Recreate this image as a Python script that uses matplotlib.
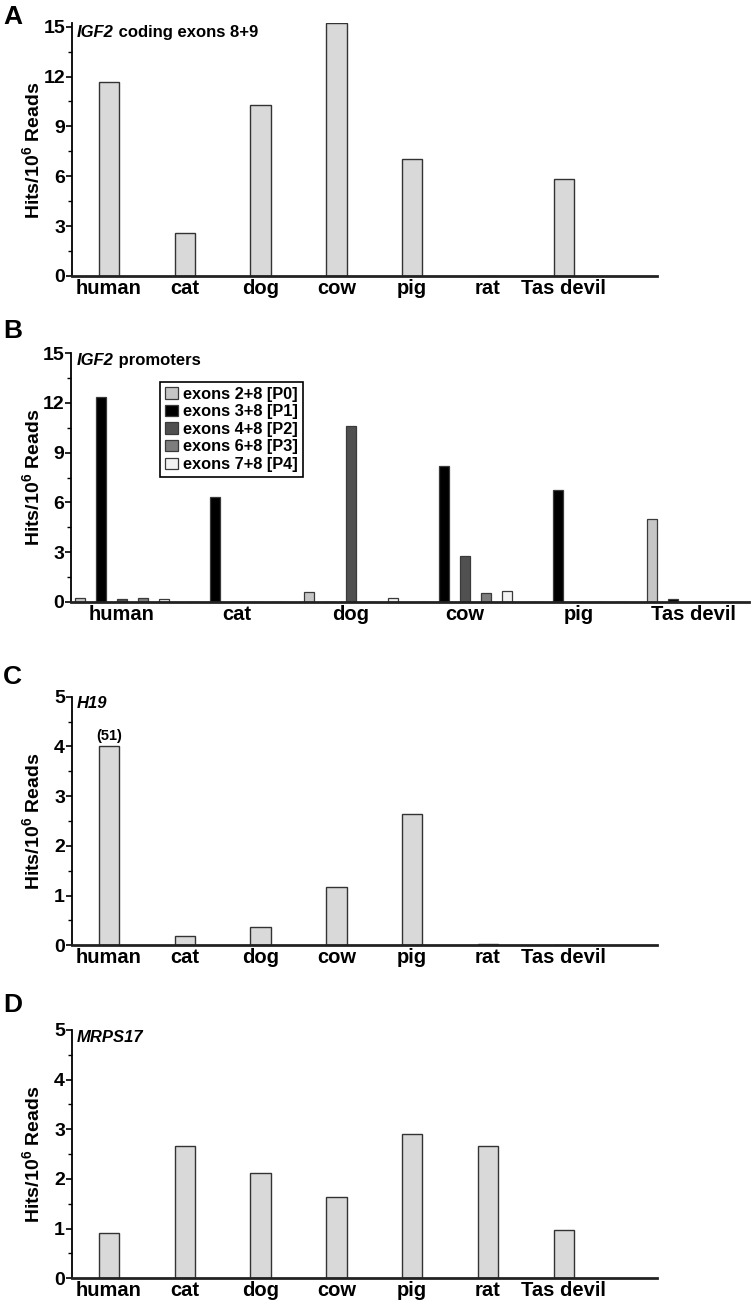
import matplotlib
matplotlib.use('Agg')
import matplotlib.pyplot as plt
import numpy as np
from matplotlib.ticker import MultipleLocator
from matplotlib.text import Annotation

plt.rcParams['font.family'] = ['Liberation Sans', 'DejaVu Sans']
plt.rcParams['font.weight'] = 'bold'
plt.rcParams['mathtext.fontset'] = 'custom'
plt.rcParams['mathtext.rm'] = 'Liberation Sans:bold'
plt.rcParams['mathtext.bf'] = 'Liberation Sans:bold'
plt.rcParams['mathtext.it'] = 'Liberation Sans:italic:bold'
plt.rcParams['mathtext.default'] = 'bf'

# ---------------- data ----------------
species7 = ['human', 'cat', 'dog', 'cow', 'pig', 'rat', 'Tas devil']
igf2_coding = [11.7, 2.6, 10.3, 15.2, 7.05, 0.0, 5.85]

species6 = ['human', 'cat', 'dog', 'cow', 'pig', 'Tas devil']
promoter_labels = ['exons 2+8 [P0]', 'exons 3+8 [P1]', 'exons 4+8 [P2]',
                   'exons 6+8 [P3]', 'exons 7+8 [P4]']
p0 = [0.25, 0.0, 0.58, 0.0, 0.0, 5.0]
p1 = [12.35, 6.3, 0.0, 8.2, 6.72, 0.18]
p2 = [0.2, 0.0, 10.62, 2.8, 0.0, 0.0]
p3 = [0.22, 0.0, 0.0, 0.52, 0.0, 0.0]
p4 = [0.16, 0.0, 0.22, 0.64, 0.0, 0.0]
promoter_colors = ['#c6c6c6', '#000000', '#505050', '#7d7d7d', '#f3f3f3']

h19 = [51.0, 0.18, 0.36, 1.18, 2.64, 0.03, 0.0]
h19_cap = 4.0
mrps17 = [0.91, 2.66, 2.13, 1.64, 2.91, 2.66, 0.97]

# ---------------- layout ----------------
W, H = 751, 1306
fig = plt.figure(figsize=(W / 100, H / 100), dpi=100)


def px_axes(left, right, top, bottom):
    return fig.add_axes([left / W, 1 - bottom / H, (right - left) / W, (bottom - top) / H])


bar_face = '#d9d9d9'
bar_edge = '#333333'


def style(ax, ymax, major, minor, labels):
    ax.spines['top'].set_visible(False)
    ax.spines['right'].set_visible(False)
    ax.spines['bottom'].set_linewidth(2.0)
    ax.spines['bottom'].set_color('#222222')
    ax.spines['left'].set_linewidth(1.3)
    ax.set_ylim(0, ymax)
    ax.yaxis.set_major_locator(MultipleLocator(major))
    ax.yaxis.set_minor_locator(MultipleLocator(minor))
    ax.tick_params(axis='y', which='major', length=4, width=1.2, labelsize=14, pad=1)
    ax.tick_params(axis='y', which='minor', length=3, width=1.0)
    ax.set_xticks(range(len(labels)))
    ax.set_xticklabels(labels)
    ax.tick_params(axis='x', length=0, labelsize=14.5, pad=2)


def ylabel(ax_top, ax_bottom):
    fig.text(32 / W, 1 - ((ax_top + ax_bottom) / 2) / H, 'Hits/10$^{6}$ Reads',
             rotation=90, ha='center', va='center', fontsize=14, fontweight='bold')


def title(xpx, ypx, ital, rest=''):
    t = fig.text(xpx / W, 1 - ypx / H, ital, fontsize=12, fontweight='bold',
                 fontstyle='italic', ha='left', va='baseline')
    if rest:
        a = Annotation(rest, xy=(1, 0), xycoords=t, ha='left', va='bottom',
                       fontsize=12, fontweight='bold', annotation_clip=False)
        fig.add_artist(a)


def letter(s, ypx):
    fig.text(3 / W, 1 - ypx / H, s, fontsize=19, fontweight='bold', ha='left', va='baseline')


step7 = 75.8
c0_7 = 109.0
xlim7 = ((72 - c0_7) / step7, (657 - c0_7) / step7)
w7 = 20.5 / step7

# ---- Panel A ----
axA = px_axes(72, 657, 276 - 15.2 * 16.62, 276)
axA.bar(np.arange(len(species7)), igf2_coding, width=w7, color=bar_face,
        edgecolor=bar_edge, linewidth=1.0)
axA.set_xlim(*xlim7)
style(axA, 15.2, 3, 1.5, species7)
ylabel(24, 276)
letter('A', 24)
title(77, 37, 'IGF2', ' coding exons 8+9')

# ---- Panel B ----
step6 = 114.3
c0_6 = 122.0
axB = px_axes(71, 749, 353, 602)
xg = np.arange(len(species6))
off = 21.0 / step6
wb = 10.0 / step6
handles = []
for k, (vals, col) in enumerate(zip([p0, p1, p2, p3, p4], promoter_colors)):
    b = axB.bar(xg + (k - 2) * off, vals, width=wb, color=col,
                edgecolor='#3a3a3a', linewidth=0.9)
    handles.append(b)
axB.set_xlim((71 - c0_6) / step6, (749 - c0_6) / step6)
style(axB, 15, 3, 1.5, species6)
leg = axB.legend(handles, promoter_labels, loc='upper left',
                 bbox_to_anchor=((160 - 71) / 678, (602 - 382) / 249),
                 borderaxespad=0, frameon=True, fancybox=False, framealpha=1,
                 edgecolor='black', prop={'size': 11.8, 'weight': 'bold'},
                 handlelength=0.8, handleheight=0.7, handletextpad=0.35,
                 labelspacing=0.16, borderpad=0.28)
leg.get_frame().set_linewidth(1.2)
ylabel(353, 602)
letter('B', 338)
title(77, 365, 'IGF2', ' promoters')

# ---- Panel C ----
axC = px_axes(72, 657, 696.7, 945.3)
h19_plot = np.minimum(h19, h19_cap)
axC.bar(np.arange(len(species7)), h19_plot, width=w7, color=bar_face,
        edgecolor=bar_edge, linewidth=1.0)
for i, v in enumerate(h19):
    if v > h19_cap:
        axC.annotate(f'({v:g})', xy=(i, h19_cap), xytext=(0, 2.5), textcoords='offset points',
                     ha='center', va='bottom', fontsize=10.5, fontweight='bold')
axC.set_xlim(*xlim7)
style(axC, 5, 1, 0.5, species7)
ylabel(696.7, 945.3)
letter('C', 684)
title(77, 708, 'H19')

# ---- Panel D ----
axD = px_axes(72, 657, 1030, 1278.3)
axD.bar(np.arange(len(species7)), mrps17, width=w7, color=bar_face,
        edgecolor=bar_edge, linewidth=1.0)
axD.set_xlim(*xlim7)
style(axD, 5, 1, 0.5, species7)
ylabel(1030, 1278.3)
letter('D', 1012)
title(77, 1042, 'MRPS17')

fig.savefig('out.png', dpi=100)
